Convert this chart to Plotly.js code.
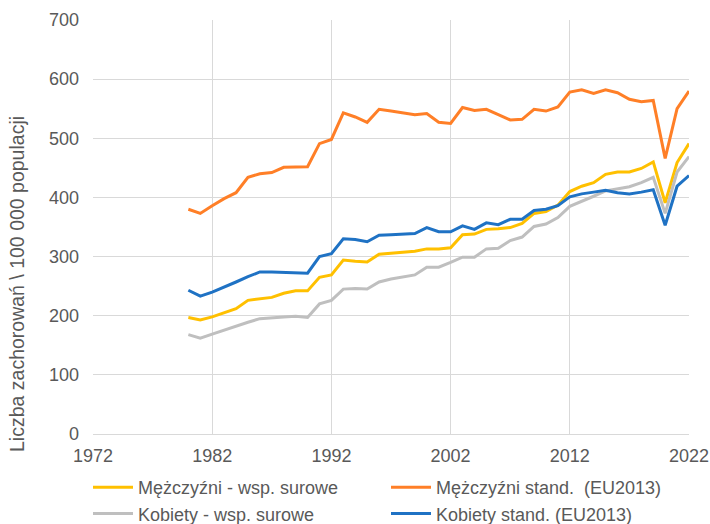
<!DOCTYPE html>
<html>
<head>
<meta charset="utf-8">
<script src="https://cdn.plot.ly/plotly-3.0.1.min.js"></script>
<style>html,body{margin:0;padding:0;background:#fff;}#chart{width:710px;height:524px;}</style>
</head>
<body>
<div id="chart"></div>
<script>
const years = [1980,1981,1982,1983,1984,1985,1986,1987,1988,1989,1990,1991,1992,1993,1994,1995,1996,1997,1998,1999,2000,2001,2002,2003,2004,2005,2006,2007,2008,2009,2010,2011,2012,2013,2014,2015,2016,2017,2018,2019,2020,2021,2022];

const menCrude = [197,193,198,205,212,226,229,231,238,242,242,265,269,294,292,291,304,306,308,309,313,313,315,337,338,346,347,349,356,373,376,387,410,419,425,439,443,443,449,460,391,459,491];
const menStd = [380,373,386,398,408,434,440,442,451,451,452,491,498,543,536,527,549,546,543,540,542,527,525,552,547,549,540,531,532,549,546,553,578,582,576,582,577,566,562,564,466,550,580];
const womenCrude = [168,162,169,176,183,189,195,197,198,199,197,220,226,245,246,245,257,262,266,269,282,282,290,299,299,313,314,327,333,351,355,366,385,393,402,411,414,418,425,434,373,443,469];
const womenStd = [243,233,240,248,257,266,274,274,273,273,272,300,305,330,329,325,336,337,338,339,349,342,342,352,346,357,354,363,363,378,380,386,401,406,409,412,408,406,409,413,353,419,437];

const seriesNames = ['Mężczyźni - wsp. surowe','Mężczyźni stand.  (EU2013)','Kobiety - wsp. surowe','Kobiety stand. (EU2013)'];
const xTickVals = [1972,1982,1992,2002,2012,2022];
const yTickVals = [0,100,200,300,400,500,600,700];
const yTitle = 'Liczba zachorowań \\ 100 000 populacji';

const colors = ['#FFC000','#FF7F27','#BFBFBF','#1F72C4'];
const data = [
  {x: years, y: menCrude, name: seriesNames[0], legend: 'legend'},
  {x: years, y: menStd, name: seriesNames[1], legend: 'legend2'},
  {x: years, y: womenCrude, name: seriesNames[2], legend: 'legend'},
  {x: years, y: womenStd, name: seriesNames[3], legend: 'legend2'}
].map((t, i) => Object.assign(t, {
  type: 'scatter', mode: 'lines',
  line: {color: colors[i], width: 3},
  hoverinfo: 'skip'
}));
const ordered = [data[0], data[2], data[1], data[3]];

const fontBase = {family: 'Liberation Sans, Arial, sans-serif', size: 18, color: '#595959'};
const plotW = 596, plotH = 414;
const legendCommon = {
  orientation: 'v', xref: 'paper', yref: 'paper',
  xanchor: 'left', yanchor: 'top',
  font: {family: 'Liberation Sans, Arial, sans-serif', size: 18, color: '#595959'},
  bgcolor: 'rgba(0,0,0,0)', borderwidth: 0, itemwidth: 40,
  traceorder: 'normal', tracegroupgap: 0
};

const layout = {
  width: 710, height: 524,
  margin: {l: 93, r: 21, t: 20, b: 90, autoexpand: false},
  paper_bgcolor: '#fff', plot_bgcolor: '#fff',
  font: fontBase,
  showlegend: true,
  xaxis: {
    range: [1972, 2022], tickvals: xTickVals, ticktext: xTickVals.map(String),
    showgrid: true, gridcolor: '#D9D9D9', gridwidth: 1,
    showline: true, linecolor: '#D9D9D9', linewidth: 1,
    zeroline: false, ticks: '', tickfont: fontBase, ticklabelstandoff: 5,
    automargin: false
  },
  yaxis: {
    range: [0, 700], tickvals: yTickVals, ticktext: yTickVals.map(String),
    showgrid: true, gridcolor: '#D9D9D9', gridwidth: 1,
    showline: false, zeroline: false, ticks: '', tickfont: fontBase,
    ticklabelstandoff: 13, automargin: false
  },
  legend: Object.assign({}, legendCommon, {x: (88 - 93) / plotW, y: (434 - 469) / plotH}),
  legend2: Object.assign({}, legendCommon, {x: (386 - 93) / plotW, y: (434 - 469) / plotH}),
  annotations: [{
    text: yTitle, xref: 'paper', yref: 'paper',
    x: (17 - 93) / plotW, y: (434 - 284) / plotH,
    xanchor: 'center', yanchor: 'middle', textangle: -90,
    showarrow: false,
    font: {family: 'Liberation Sans, Arial, sans-serif', size: 19.5, color: '#595959'}
  }]
};

Plotly.newPlot('chart', ordered, layout, {displayModeBar: false, staticPlot: true});
</script>
</body>
</html>
